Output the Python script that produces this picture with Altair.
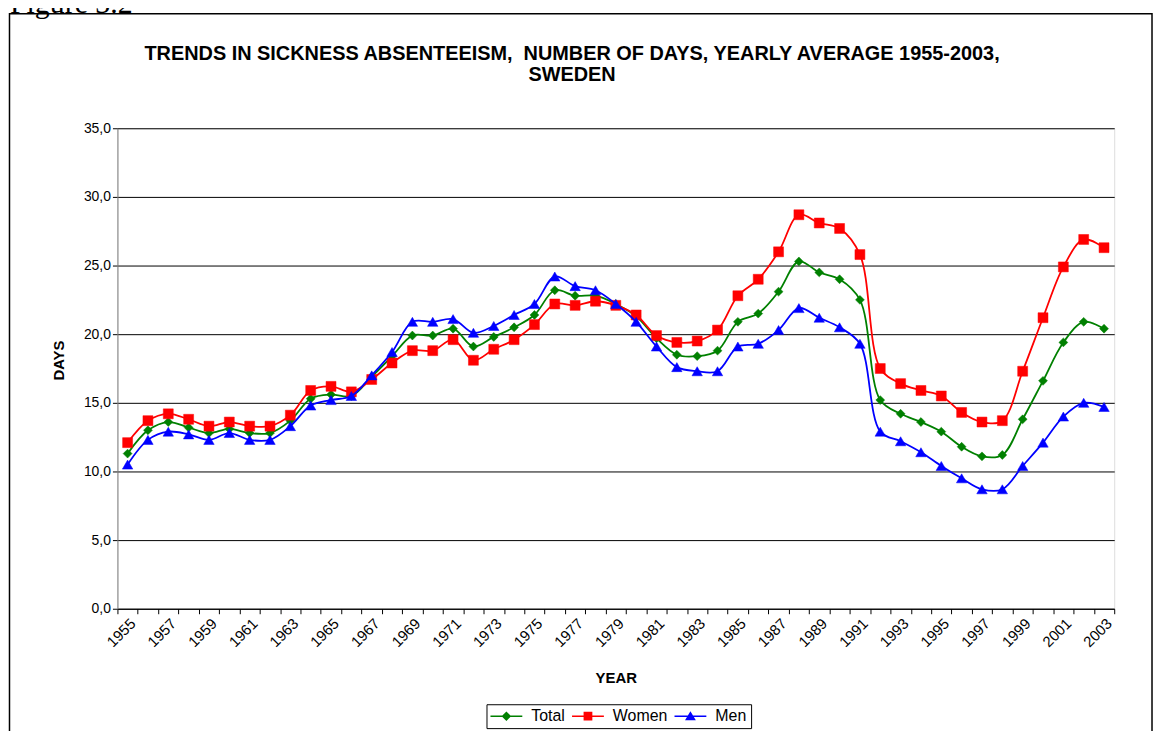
import altair as alt
import pandas as pd

# ---------------- data ----------------
years = list(range(1955, 2004))

total = [11.3, 13.0, 13.6, 13.2, 12.8, 13.1, 12.8, 12.8, 13.7, 15.3,
         15.6, 15.5, 16.9, 18.4, 19.9, 19.9, 20.4, 19.1, 19.8, 20.5,
         21.4, 23.2, 22.8, 22.8, 22.2, 21.3, 19.7, 18.5, 18.4, 18.8,
         20.9, 21.5, 23.1, 25.3, 24.5, 24.0, 22.5, 15.2, 14.2, 13.6,
         12.9, 11.8, 11.1, 11.2, 13.8, 16.6, 19.4, 20.9, 20.4]

women = [12.1, 13.7, 14.2, 13.8, 13.3, 13.6, 13.3, 13.3, 14.1, 15.9,
         16.2, 15.8, 16.7, 17.9, 18.8, 18.8, 19.6, 18.1, 18.9, 19.6,
         20.7, 22.2, 22.1, 22.4, 22.1, 21.4, 19.9, 19.4, 19.5, 20.3,
         22.8, 24.0, 26.0, 28.7, 28.1, 27.7, 25.8, 17.5, 16.4, 15.9,
         15.5, 14.3, 13.6, 13.7, 17.3, 21.2, 24.9, 26.9, 26.3]

men = [10.5, 12.3, 12.9, 12.7, 12.3, 12.8, 12.3, 12.3, 13.3, 14.8,
       15.2, 15.5, 17.0, 18.7, 20.9, 20.9, 21.1, 20.1, 20.6, 21.4,
       22.2, 24.2, 23.5, 23.2, 22.2, 20.9, 19.1, 17.6, 17.3, 17.3,
       19.1, 19.3, 20.3, 21.9, 21.2, 20.5, 19.3, 12.9, 12.2, 11.4,
       10.4, 9.5, 8.7, 8.7, 10.4, 12.1, 14.0, 15.0, 14.7]

series_names = ["Total", "Women", "Men"]
series_colors = ["#008000", "#FF0000", "#0000FF"]
point_shapes = ["diamond", "square", "triangle-up"]
point_sizes = [80, 100, 110]
legend_paths = [
    "M-2,-0.1H2V0.1H-2Z M0,-0.6L0.6,0L0,0.6L-0.6,0Z",
    "M-2,-0.1H2V0.1H-2Z M-0.55,-0.55H0.55V0.55H-0.55Z",
    "M-2,-0.1H2V0.1H-2Z M0,-0.62L0.68,0.52H-0.68Z",
]

y_ticks = [0, 5, 10, 15, 20, 25, 30, 35]
x_label_years = list(range(1955, 2004, 2))
x_tick_bounds = [y - 0.5 for y in range(1955, 2005)]

title_lines = ["TRENDS IN SICKNESS ABSENTEEISM, \u00a0NUMBER OF DAYS, YEARLY AVERAGE 1955-2003,",
               "SWEDEN"]
figure_label = "Figure 3.2"

# ---------------- table ----------------
rows = []
for name, vals in zip(series_names, [total, women, men]):
    for yr, v in zip(years, vals):
        rows.append({"year": yr, "days": v, "series": name})
df = pd.DataFrame(rows)

FONT = "Liberation Sans"

x_enc = alt.X(
    "year:Q",
    scale=alt.Scale(domain=[1954.5, 2003.5], nice=False, zero=False),
    axis=alt.Axis(
        values=sorted(x_tick_bounds + x_label_years),
        labelExpr="datum.value % 1 === 0 ? '' + datum.value : ''",
        tickOpacity={"condition": {"test": "datum.value % 1 === 0", "value": 0}, "value": 1},
        labelAngle=-45, labelOverlap=False, labelFlush=False, labelBound=False,
        grid=False, tickSize=5, tickColor="black", domainColor="black",
        labelFont=FONT, labelFontSize=15, labelColor="black", labelPadding=2,
        title="YEAR", titleFont=FONT, titleFontSize=15, titleFontWeight="bold",
        titleColor="black", titlePadding=21,
    ),
)

y_enc = alt.Y(
    "days:Q",
    scale=alt.Scale(domain=[0, 35], nice=False),
    axis=alt.Axis(
        values=y_ticks,
        labelExpr="replace(format(datum.value, '.1f'), '.', ',')",
        grid=True, gridColor="black", gridWidth=1, gridOpacity=1,
        tickSize=5, tickColor="black", domainColor="#808080",
        labelFont=FONT, labelFontSize=14, labelColor="black", labelPadding=2,
        labelFlush=False,
        title="DAYS", titleFont=FONT, titleFontSize=15, titleFontWeight="bold",
        titleColor="black", titlePadding=17, titleY=233,
    ),
)

layers = []
for name, col, shp, sz in zip(series_names, series_colors, point_shapes, point_sizes):
    base = alt.Chart(df).transform_filter(alt.datum.series == name)
    layers.append(base.mark_line(interpolate="catmull-rom", strokeWidth=1.8, color=col)
                  .encode(x=x_enc, y=y_enc))
    layers.append(base.mark_point(filled=True, opacity=1, shape=shp, size=sz, color=col,
                                  strokeWidth=0.5, stroke=col)
                  .encode(x=x_enc, y=y_enc))

leg = alt.Legend(orient="none", legendX=371, legendY=579, direction="horizontal",
                 title=None, padding=4, strokeColor="black", fillColor="white",
                 labelFont=FONT, labelFontSize=16, labelColor="black",
                 symbolSize=256, symbolOffset=8, labelOffset=17, columnPadding=7,
                 symbolStrokeWidth=0)

legend_layer = alt.Chart(df).transform_filter("false").mark_point(
    filled=True, opacity=1, size=256
).encode(
    color=alt.Color("series:N", scale=alt.Scale(domain=series_names, range=series_colors), legend=leg),
    shape=alt.Shape("series:N", scale=alt.Scale(domain=series_names, range=legend_paths), legend=leg),
)

one = pd.DataFrame({"a": [1]})
frame = alt.Chart(one).mark_rect(fillOpacity=0, stroke="black", strokeWidth=1.5).encode(
    x=alt.value(-108.5), y=alt.value(-115), x2=alt.value(1040), y2=alt.value(700)
)
fig_text = alt.Chart(one).mark_text(
    text=figure_label, font="Liberation Serif", fontSize=30, align="left",
    baseline="alphabetic", color="black"
).encode(x=alt.value(-108), y=alt.value(-116))

chart = alt.layer(frame, fig_text, *layers, legend_layer).properties(
    width=1002, height=483,
    padding={"left": 110, "top": 119, "right": 40, "bottom": 121},
    autosize="none",
    title=alt.TitleParams(text=title_lines, font=FONT, fontSize=20, fontWeight="bold",
                          color="black", anchor="middle", dx=-44, dy=143, offset=47,
                          frame="group", lineHeight=21),
).resolve_scale(color="independent", shape="independent").configure_view(stroke=None).configure(background="white")

chart.save("out.html", embed_options={"renderer": "svg", "actions": False})
